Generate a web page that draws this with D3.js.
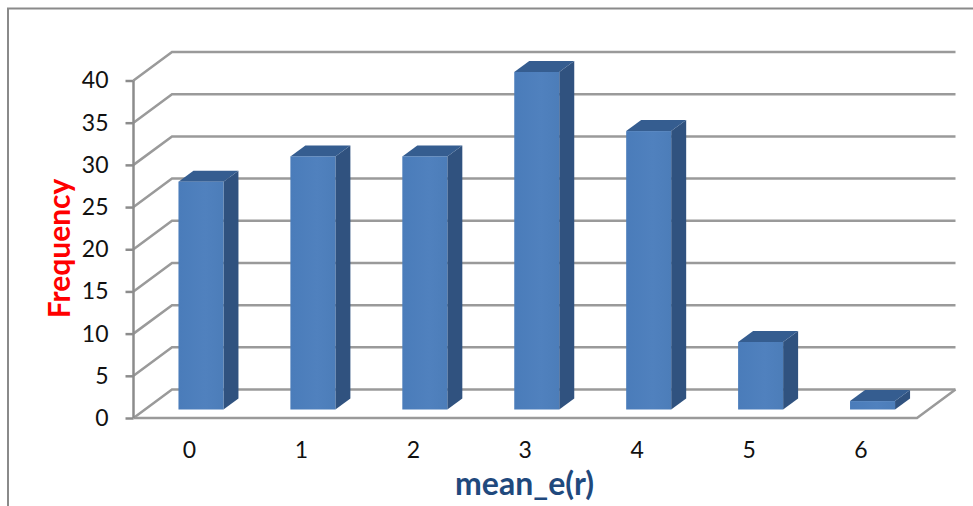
<!DOCTYPE html>
<html lang="en">
<head>
<title>mean_e(r) frequency</title>
<script src="https://d3js.org/d3.v7.min.js"></script>
<style>
    html, body { margin: 0; padding: 0; background: #fff; overflow: hidden; }
    svg { display: block; font-family: Lato, sans-serif; }
    .tick text { font-family: Lato, sans-serif; font-size: 23px; fill: #111; }
    .axis path, .axis line { stroke: #8c8c8c; stroke-width: 2.5; }
    .wall { stroke: #9a9a9a; stroke-width: 2.5; fill: none; }
    .label { font-weight: bold; }
</style>
</head>
<body>
<svg width="973" height="506"></svg>
<script>
const categories = ['0', '1', '2', '3', '4', '5', '6'];
const frequency = [27, 30, 30, 40, 33, 8, 1];
const yTicks = [0, 5, 10, 15, 20, 25, 30, 35, 40];

const svg = d3.select('svg');

const x0 = 133.5, x1 = 917;
const y0 = 418, y1 = 80.5;
// offset of the back wall from the front of the floor
const depthX = 38.5, depthY = -28.5;
// bars stand in the middle of the floor, and have their own shallower depth
const barShiftX = 11.5, barShiftY = -8.5;
const barDepthX = 15, barDepthY = -11;
const barWidth = 45;

const xScale = d3.scaleBand().domain(categories).range([x0, x1]);
const yScale = d3.scaleLinear().domain([0, 40]).range([y0, y1]);

// outer frame, cut off by the picture on the right and bottom
svg.append('path')
    .attr('d', 'M8,507V8.5H973')
    .attr('fill', 'none')
    .attr('stroke', '#8a8a8a')
    .attr('stroke-width', 2);

// gridlines running along the side and back walls
const grid = svg.append('g');
yTicks.forEach(t => {
    grid.append('path')
        .attr('class', 'wall')
        .attr('d', `M${x0},${yScale(t)}L${x0 + depthX},${yScale(t) + depthY}H${x1 + depthX}`);
});

// front and right edge of the floor
svg.append('path')
    .attr('class', 'wall')
    .attr('d', `M${x0},${y0}H${x1}L${x1 + depthX},${y0 + depthY}`);

svg.append('g')
    .attr('class', 'axis')
    .attr('transform', `translate(${x0},0)`)
    .call(d3.axisLeft(yScale).tickValues(yTicks).tickSize(8).tickPadding(17))
    .call(g => g.select('.domain').attr('d', `M0,${y0}V${y1}`));

const xAxis = svg.append('g')
    .attr('class', 'axis')
    .attr('transform', `translate(0,${y0})`)
    .call(d3.axisBottom(xScale).tickSize(0).tickPadding(24));
xAxis.select('.domain').remove();

const defs = svg.append('defs');
const grad = defs.append('linearGradient').attr('id', 'front');
grad.append('stop').attr('offset', '0%').attr('stop-color', '#4a7cba');
grad.append('stop').attr('offset', '60%').attr('stop-color', '#5081be');
grad.append('stop').attr('offset', '100%').attr('stop-color', '#4c7db9');

const bars = svg.selectAll('.bar')
    .data(categories.map((c, i) => ({ c, v: frequency[i] })))
    .enter()
    .append('g')
    .attr('class', 'bar');

const barLeft = d => xScale(d.c) + xScale.bandwidth() / 2 - barWidth / 2 + barShiftX;
const barRight = d => barLeft(d) + barWidth;
const barTop = d => yScale(d.v) + barShiftY;
const barBottom = y0 + barShiftY;

// side face
bars.append('path')
    .attr('fill', '#30527f')
    .attr('d', d => `M${barRight(d)},${barTop(d)}l${barDepthX},${barDepthY}V${barBottom + barDepthY}l${-barDepthX},${-barDepthY}Z`);

// top face
bars.append('path')
    .attr('fill', '#355d90')
    .attr('d', d => `M${barLeft(d)},${barTop(d)}l${barDepthX},${barDepthY}H${barRight(d) + barDepthX}l${-barDepthX},${-barDepthY}Z`);

// front face
bars.append('rect')
    .attr('fill', 'url(#front)')
    .attr('x', barLeft)
    .attr('y', barTop)
    .attr('width', barWidth)
    .attr('height', d => barBottom - barTop(d));

svg.append('text')
    .attr('class', 'label')
    .attr('x', 524.5)
    .attr('y', 495)
    .attr('text-anchor', 'middle')
    .attr('fill', '#1f497d')
    .attr('font-size', 32)
    .text('mean_e(r)');

svg.append('text')
    .attr('class', 'label')
    .attr('transform', 'translate(70,248.5) rotate(-90)')
    .attr('text-anchor', 'middle')
    .attr('fill', '#ff0000')
    .attr('font-size', 30)
    .text('Frequency');
</script>
</body>
</html>
